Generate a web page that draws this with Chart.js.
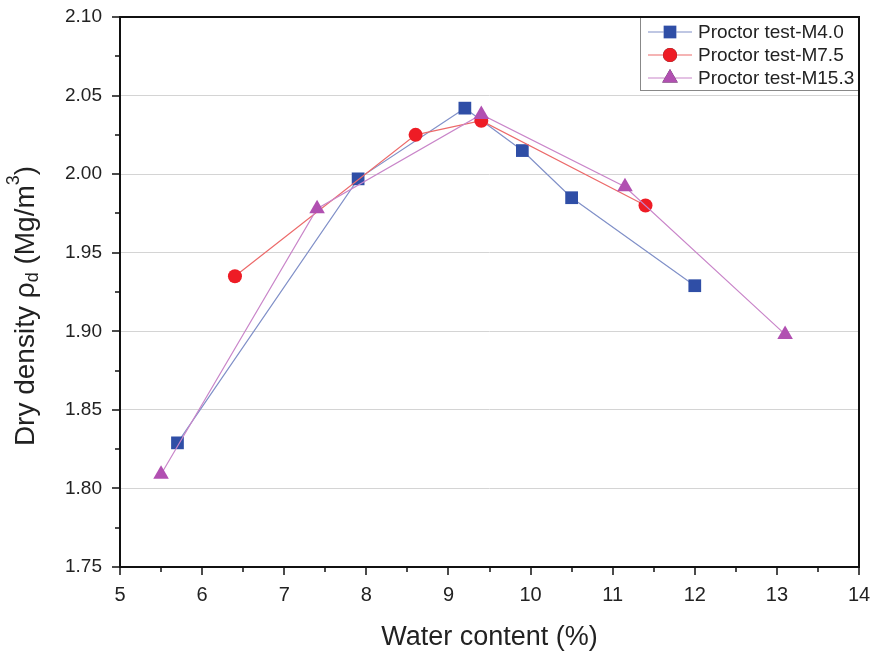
<!DOCTYPE html>
<html>
<head>
<meta charset="utf-8">
<script src="https://cdn.jsdelivr.net/npm/chart.js@4.4.0/dist/chart.umd.min.js"></script>
<style>
  html, body { margin: 0; padding: 0; background: #fff; }
  #wrap { width: 874px; height: 654px; }
</style>
</head>
<body>
<div id="wrap"><canvas id="proctorCanvas" width="874" height="654"></canvas></div>
<script>
// water content (%) and dry density (Mg/m3) for each test
const waterM40 = [5.7, 7.9, 9.2, 9.9, 10.5, 12.0];
const densityM40 = [1.829, 1.997, 2.042, 2.015, 1.985, 1.929];

const waterM75 = [6.4, 8.6, 9.4, 11.4];
const densityM75 = [1.935, 2.025, 2.034, 1.980];

const waterM153 = [5.5, 7.4, 9.4, 11.15, 13.1];
const densityM153 = [1.809, 1.978, 2.038, 1.992, 1.898];

const seriesNames = ["Proctor test-M4.0", "Proctor test-M7.5", "Proctor test-M15.3"];

const xTicks = { min: 5, max: 14, step: 1 };
const yTicks = { min: 1.75, max: 2.10, step: 0.05 };

function toPoints(xs, ys) {
    return xs.map(function (x, i) { return { x: x, y: ys[i] }; });
}

const FONT = "'Liberation Sans', Arial, sans-serif";

// frame, outward tick marks, y title with sub/superscript, legend
const decorPlugin = {
    id: "decor",
    afterDraw: function (chart) {
        const ctx = chart.ctx;
        const area = chart.chartArea;
        const xs = chart.scales.x;
        const ys = chart.scales.y;
        ctx.save();

        ctx.strokeStyle = "#111";
        ctx.lineWidth = 2;
        ctx.strokeRect(area.left, area.top, area.right - area.left, area.bottom - area.top);

        ctx.lineWidth = 1.5;
        ctx.beginPath();
        for (let v = xTicks.min; v <= xTicks.max + 1e-9; v += xTicks.step / 2) {
            const px = Math.round(xs.getPixelForValue(v));
            const major = Math.abs(v - Math.round(v)) < 1e-6;
            ctx.moveTo(px, area.bottom);
            ctx.lineTo(px, area.bottom + (major ? 8 : 5));
        }
        const n = Math.round((yTicks.max - yTicks.min) / (yTicks.step / 2));
        for (let i = 0; i <= n; i++) {
            const v = yTicks.min + i * yTicks.step / 2;
            const py = Math.round(ys.getPixelForValue(v));
            ctx.moveTo(area.left, py);
            ctx.lineTo(area.left - (i % 2 === 0 ? 8 : 5), py);
        }
        ctx.stroke();

        // y axis title
        const big = "28px " + FONT;
        const small = "18px " + FONT;
        const parts = [
            { t: "Dry density \u03c1", f: big, dy: 0 },
            { t: "d", f: small, dy: 7 },
            { t: " (Mg/m", f: big, dy: 0 },
            { t: "3", f: small, dy: -12 },
            { t: ")", f: big, dy: 0 }
        ];
        let total = 0;
        parts.forEach(function (p) { ctx.font = p.f; p.w = ctx.measureText(p.t).width; total += p.w; });
        ctx.translate(26, 306);
        ctx.rotate(-Math.PI / 2);
        ctx.fillStyle = "#222";
        ctx.textBaseline = "middle";
        ctx.textAlign = "left";
        let cx = -total / 2;
        parts.forEach(function (p) {
            ctx.font = p.f;
            ctx.fillText(p.t, cx, p.dy);
            cx += p.w;
        });
        ctx.setTransform(1, 0, 0, 1, 0, 0);

        // legend
        const lx = 640, ly = area.top, lw = area.right - 640, lh = 73;
        ctx.fillStyle = "#fff";
        ctx.fillRect(lx, ly, lw, lh);
        ctx.strokeStyle = "#888";
        ctx.lineWidth = 1;
        ctx.strokeRect(lx + 0.5, ly + 0.5, lw - 1, lh);
        ctx.strokeStyle = "#111";
        ctx.lineWidth = 2;
        ctx.beginPath();
        ctx.moveTo(area.right, area.top);
        ctx.lineTo(area.right, ly + lh + 1);
        ctx.moveTo(lx, area.top);
        ctx.lineTo(area.right, area.top);
        ctx.stroke();

        const legendOrder = [0, 1, 2];
        legendOrder.forEach(function (di, row) {
            const ds = chart.data.datasets[di];
            const y = ly + 15 + row * 23;
            ctx.strokeStyle = ds.borderColor;
            ctx.lineWidth = 1.2;
            ctx.beginPath();
            ctx.moveTo(648, y);
            ctx.lineTo(692, y);
            ctx.stroke();
            Chart.helpers.drawPoint(ctx, {
                pointStyle: ds.pointStyle,
                radius: ds.pointRadius,
                rotation: 0,
                borderWidth: 0
            }, 670, y);
            ctx.fillStyle = ds.pointBackgroundColor;
            ctx.fill();
            ctx.fillStyle = "#222";
            ctx.font = "19px " + FONT;
            ctx.textBaseline = "middle";
            ctx.fillText(seriesNames[di], 698, y + 1);
        });
        ctx.restore();
    }
};

new Chart(document.getElementById("proctorCanvas"), {
    type: "scatter",
    data: {
        datasets: [{
            label: seriesNames[0],
            data: toPoints(waterM40, densityM40),
            showLine: true,
            borderColor: "#8090c8",
            borderWidth: 1.2,
            pointStyle: "rect",
            pointRadius: 9,
            pointHoverRadius: 9,
            pointBackgroundColor: "#2f4ea6",
            pointBorderWidth: 0,
            order: 3
        }, {
            label: seriesNames[1],
            data: toPoints(waterM75, densityM75),
            showLine: true,
            borderColor: "#ec6a6a",
            borderWidth: 1.2,
            pointStyle: "circle",
            pointRadius: 7,
            pointHoverRadius: 7,
            pointBackgroundColor: "#ee1c25",
            pointBorderWidth: 0,
            order: 2
        }, {
            label: seriesNames[2],
            data: toPoints(waterM153, densityM153),
            showLine: true,
            borderColor: "#c985c9",
            borderWidth: 1.2,
            pointStyle: "triangle",
            pointRadius: 9,
            pointHoverRadius: 9,
            pointBackgroundColor: "#b150b1",
            pointBorderWidth: 0,
            order: 1
        }]
    },
    options: {
        responsive: false,
        animation: false,
        events: [],
        layout: { padding: { left: 0, right: 15, top: 17, bottom: 0 } },
        plugins: {
            legend: { display: false },
            tooltip: { enabled: false }
        },
        scales: {
            x: {
                type: "linear",
                min: xTicks.min,
                max: xTicks.max,
                afterFit: function (scale) {
                    scale.height = 87;
                    scale.paddingLeft = 0;
                    scale.paddingRight = 0;
                },
                border: { display: false },
                grid: { display: false, drawTicks: false },
                ticks: {
                    stepSize: xTicks.step,
                    padding: 16,
                    color: "#222",
                    font: { family: FONT, size: 20 }
                },
                title: {
                    display: true,
                    text: "Water content (%)",
                    color: "#222",
                    font: { family: FONT, size: 27 },
                    padding: { top: 0, bottom: 0 }
                }
            },
            y: {
                type: "linear",
                min: yTicks.min,
                max: yTicks.max,
                afterFit: function (scale) {
                    scale.width = 120;
                    scale.paddingTop = 0;
                    scale.paddingBottom = 0;
                },
                border: { display: false },
                grid: {
                    drawTicks: false,
                    lineWidth: 1,
                    color: function (c) {
                        const v = c.tick ? c.tick.value : 0;
                        if (Math.abs(v - yTicks.min) < 1e-6 || Math.abs(v - yTicks.max) < 1e-6) return "rgba(0,0,0,0)";
                        return "#d4d4d4";
                    }
                },
                ticks: {
                    stepSize: yTicks.step,
                    padding: 18,
                    color: "#222",
                    font: { family: FONT, size: 19 },
                    callback: function (v) { return Number(v).toFixed(2); }
                }
            }
        }
    },
    plugins: [decorPlugin]
});
</script>
</body>
</html>
